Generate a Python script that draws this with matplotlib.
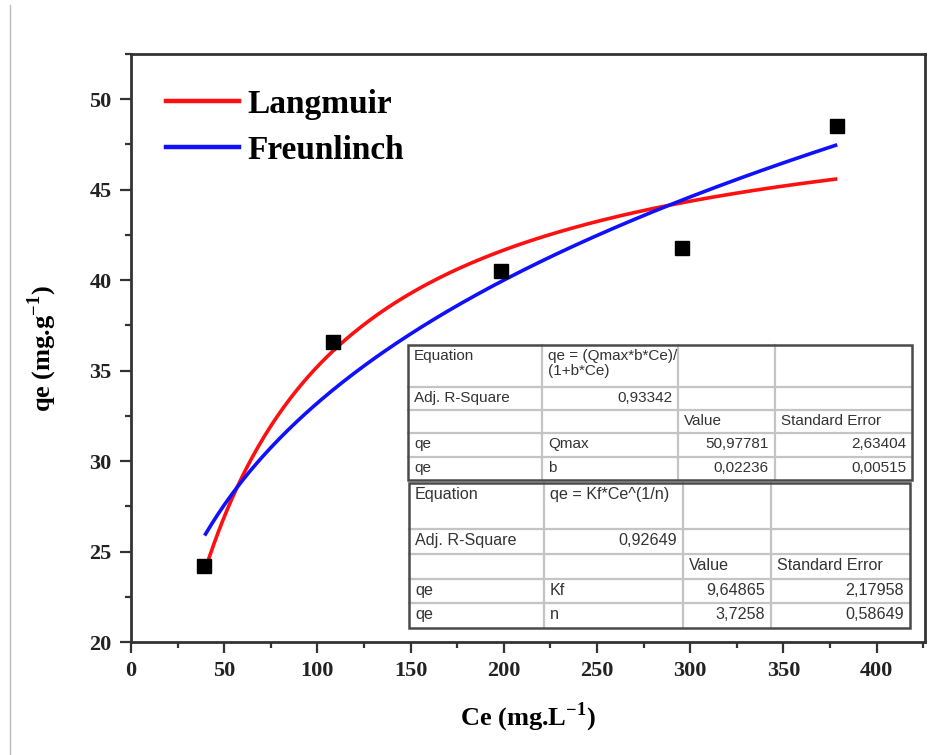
import numpy as np
import matplotlib
matplotlib.use('Agg')
import matplotlib.pyplot as plt
from matplotlib.lines import Line2D
from matplotlib.patches import Rectangle
from matplotlib.ticker import MultipleLocator

plt.rcParams['mathtext.fontset'] = 'custom'
plt.rcParams['mathtext.rm'] = 'Liberation Serif'
plt.rcParams['mathtext.bf'] = 'Liberation Serif:bold'

# experimental equilibrium data
ce = [39.0, 108.5, 198.5, 295.5, 379.0]
qe = [24.2, 36.6, 40.5, 41.8, 48.5]

# fitted parameters
qmax, b = 50.97781, 0.02236
kf, n = 9.64865, 3.7258

ce_fit = np.linspace(40, 378, 300)
q_lang = qmax * b * ce_fit / (1 + b * ce_fit)
q_freu = kf * ce_fit ** (1 / n)

W, H = 939, 755
fig = plt.figure(figsize=(W / 100, H / 100), dpi=100)
ax = fig.add_axes([131 / W, 1 - 642 / H, 794 / W, 588 / H])

ax.plot(ce_fit, q_lang, color='#ff1010', lw=2.6, label='Langmuir', zorder=3)
ax.plot(ce_fit, q_freu, color='#1010ff', lw=2.6, label='Freunlinch', zorder=3)
ax.plot(ce, qe, 's', color='black', ms=9.5, zorder=4)

ax.set_xlim(0, 426)
ax.set_ylim(20, 52.5)
ax.xaxis.set_major_locator(MultipleLocator(50))
ax.xaxis.set_minor_locator(MultipleLocator(25))
ax.yaxis.set_major_locator(MultipleLocator(5))
ax.yaxis.set_minor_locator(MultipleLocator(2.5))
ax.tick_params(which='major', direction='out', length=8, width=1.6,
               color='#333333', pad=6)
ax.tick_params(which='minor', direction='out', length=4.5, width=1.6,
               color='#333333')
for lab in ax.get_xticklabels() + ax.get_yticklabels():
    lab.set_fontfamily('Liberation Serif')
    lab.set_fontweight('bold')
    lab.set_fontsize(16)
    lab.set_color('#222222')
for sp in ax.spines.values():
    sp.set_linewidth(2)
    sp.set_color('#333333')

ax.set_xlabel(r'Ce (mg.L$^{\mathbf{-1}}$)', fontfamily='Liberation Serif',
              fontweight='bold', fontsize=19, labelpad=14)
ax.set_ylabel(r'qe (mg.g$^{\mathbf{-1}}$)', fontfamily='Liberation Serif',
              fontweight='bold', fontsize=19, labelpad=22)

leg = ax.legend(loc='upper left', bbox_to_anchor=(0.006, 0.992), frameon=False,
                handlelength=2.2, handletextpad=0.25, labelspacing=0.45,
                prop={'family': 'Liberation Serif', 'weight': 'bold', 'size': 24})
for line in leg.get_lines():
    line.set_linewidth(3.2)


def px(x, y):
    return x / W, 1 - y / H


def draw_table(cols, rows, cells, fs):
    x0, y0 = px(cols[0], rows[0])
    x1, y1 = px(cols[-1], rows[-1])
    fig.add_artist(Rectangle((x0, y1), x1 - x0, y0 - y1, facecolor='white',
                             edgecolor='none', zorder=5))
    for c in cols[1:-1]:
        xa, ya = px(c, rows[0])
        _, yb = px(c, rows[-1])
        fig.add_artist(Line2D([xa, xa], [ya, yb], color='#c4c4c4', lw=1.6, zorder=6))
    for r in rows[1:-1]:
        xa, ya = px(cols[0], r)
        xb, _ = px(cols[-1], r)
        fig.add_artist(Line2D([xa, xb], [ya, ya], color='#c4c4c4', lw=1.6, zorder=6))
    fig.add_artist(Rectangle((x0, y1), x1 - x0, y0 - y1, facecolor='none',
                             edgecolor='#4a4a4a', lw=1.8, zorder=7))
    for (i, j), (txt, align) in cells.items():
        if align == 'r':
            tx, ty = px(cols[j + 1] - 6, rows[i] + 4)
        else:
            tx, ty = px(cols[j] + 6, rows[i] + 4)
        fig.text(tx, ty, txt, ha='right' if align == 'r' else 'left', va='top',
                 fontfamily='Liberation Sans', fontsize=fs, color='#333333',
                 linespacing=1.05, zorder=8)


lang_cells = {
    (0, 0): ('Equation', 'l'),
    (0, 1): ('qe = (Qmax*b*Ce)/\n(1+b*Ce)', 'l'),
    (1, 0): ('Adj. R-Square', 'l'),
    (1, 1): ('0,93342', 'r'),
    (2, 2): ('Value', 'l'),
    (2, 3): ('Standard Error', 'l'),
    (3, 0): ('qe', 'l'),
    (3, 1): ('Qmax', 'l'),
    (3, 2): ('50,97781', 'r'),
    (3, 3): ('2,63404', 'r'),
    (4, 0): ('qe', 'l'),
    (4, 1): ('b', 'l'),
    (4, 2): ('0,02236', 'r'),
    (4, 3): ('0,00515', 'r'),
}
freu_cells = {
    (0, 0): ('Equation', 'l'),
    (0, 1): ('qe = Kf*Ce^(1/n)', 'l'),
    (1, 0): ('Adj. R-Square', 'l'),
    (1, 1): ('0,92649', 'r'),
    (2, 2): ('Value', 'l'),
    (2, 3): ('Standard Error', 'l'),
    (3, 0): ('qe', 'l'),
    (3, 1): ('Kf', 'l'),
    (3, 2): ('9,64865', 'r'),
    (3, 3): ('2,17958', 'r'),
    (4, 0): ('qe', 'l'),
    (4, 1): ('n', 'l'),
    (4, 2): ('3,7258', 'r'),
    (4, 3): ('0,58649', 'r'),
}

draw_table([408, 542, 678, 775, 912], [345, 387, 410, 433, 457, 480],
           lang_cells, 11)
draw_table([409, 544, 683, 771, 910], [483, 529, 554, 579, 603, 628],
           freu_cells, 11.6)

# thin page edge on the left
fig.add_artist(Line2D([10 / W, 10 / W], [0, 1 - 5 / H], color='#bbbbbb', lw=1))

fig.savefig('out.png', dpi=100)
